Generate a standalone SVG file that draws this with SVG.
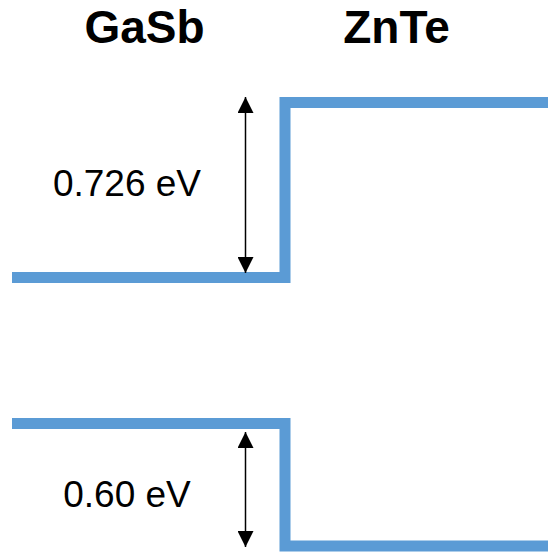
<svg xmlns="http://www.w3.org/2000/svg" width="548" height="554" viewBox="0 0 548 554">
<style>
.band{fill:none;stroke:#5b9bd5;stroke-width:11;stroke-linejoin:miter;stroke-linecap:butt}
.arr{stroke:#000;stroke-width:1.5;fill:none}
.title{font-family:"Liberation Sans",Arial,sans-serif;font-weight:bold;font-size:46px;fill:#000;text-anchor:middle}
.lbl{font-family:"Liberation Sans",Arial,sans-serif;font-size:37px;fill:#000;text-anchor:middle}
</style>
<defs>
<marker id="ah" viewBox="0 0 10 10" refX="10" refY="5" markerWidth="8" markerHeight="8" markerUnits="userSpaceOnUse" orient="auto-start-reverse">
<path d="M0,0 L10,5 L0,10 Z" fill="#000"/>
</marker>
<marker id="ah2" viewBox="0 0 16 16" refX="16" refY="8" markerWidth="16" markerHeight="16" markerUnits="userSpaceOnUse" orient="auto-start-reverse">
<path d="M0,0 L16,8 L0,16 Z" fill="#000"/>
</marker>
</defs>
<g id="title-gasb"><text class="title" x="144.5" y="43">GaSb</text></g>
<g id="title-znte"><text class="title" x="396.5" y="43">ZnTe</text></g>
<g id="conduction-band"><path class="band" d="M12,277.5 H285 V102.5 H548"/></g>
<g id="valence-band"><path class="band" d="M12,423.5 H285 V546 H548"/></g>
<g id="label-cb"><text class="lbl" x="127" y="196">0.726 eV</text></g>
<g id="label-vb"><text class="lbl" x="127" y="507">0.60 eV</text></g>
<g id="connectors">
<line class="arr" x1="245.5" y1="97" x2="245.5" y2="273" marker-start="url(#ah2)" marker-end="url(#ah2)"/>
<line class="arr" x1="245.5" y1="432" x2="245.5" y2="547" marker-start="url(#ah2)" marker-end="url(#ah2)"/>
</g>
</svg>
